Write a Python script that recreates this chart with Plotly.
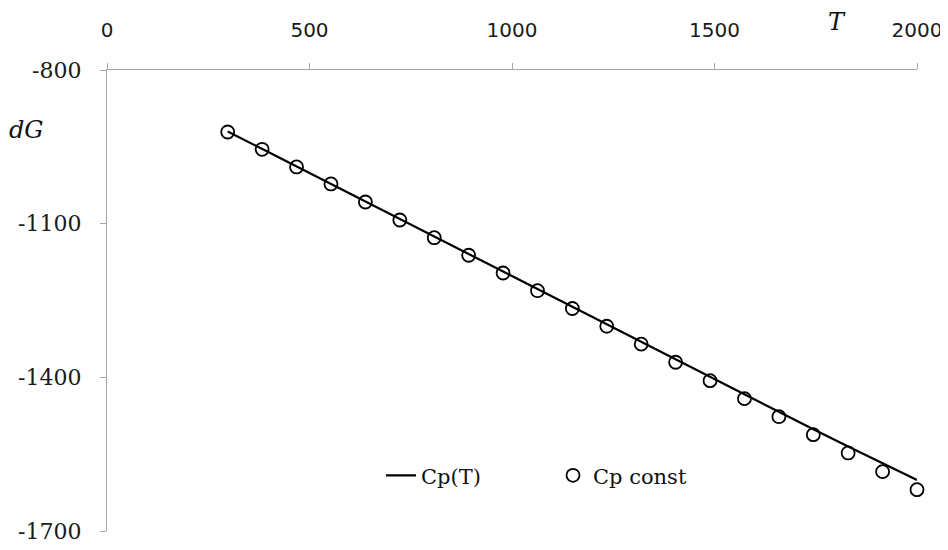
import plotly.graph_objects as go

T = [298, 383, 468, 553, 638, 723, 808, 893, 978, 1063, 1149,
     1234, 1319, 1404, 1489, 1574, 1659, 1744, 1830, 1915, 2000]
dG_cpT = [-920.0, -954.2, -988.4, -1022.5, -1056.7, -1090.8, -1125.6,
          -1159.8, -1193.9, -1228.1, -1262.2, -1296.4, -1330.6, -1364.7,
          -1398.9, -1433.0, -1467.2, -1501.4, -1534.9, -1568.1, -1600.3]
dG_const = [-921.0, -954.8, -989.3, -1022.5, -1057.7, -1092.8, -1127.4,
            -1161.7, -1196.3, -1230.8, -1265.6, -1300.3, -1335.2, -1370.6,
            -1406.5, -1441.6, -1476.8, -1511.9, -1547.6, -1584.1, -1619.3]
x_ticks = [0, 500, 1000, 1500, 2000]
x_labels = ["0", "500", "1000", "1500", "2000"]
y_ticks = [-800, -1100, -1400, -1700]
y_labels = ["-800", "-1100", "-1400", "-1700"]

serif = "DejaVu Serif"
sans = "DejaVu Sans"
axis_grey = "#a6a6a6"

fig = go.Figure()
fig.add_trace(go.Scatter(
    x=T, y=dG_cpT, mode="lines", name="Cp(T)",
    line=dict(color="#000000", width=2.2), cliponaxis=False,
    legend="legend"))
fig.add_trace(go.Scatter(
    x=T, y=dG_const, mode="markers", name="Cp const",
    marker=dict(symbol="circle-open", size=13, color="#000000",
                line=dict(width=1.8, color="#000000")),
    cliponaxis=False, legend="legend2"))

leg_font = dict(family=serif, size=21, color="#111111")

# page body adds an 8px offset, so the figure is 940x542
fig.update_layout(
    width=940, height=542,
    margin=dict(l=99, r=31, t=62, b=19, autoexpand=False),
    paper_bgcolor="white", plot_bgcolor="white",
    showlegend=True,
    legend=dict(x=(381 - 107) / 810, y=0.12, xanchor="left",
                yanchor="middle", bgcolor="rgba(0,0,0,0)", font=leg_font),
    legend2=dict(x=(553 - 107) / 810, y=0.12, xanchor="left",
                 yanchor="middle", bgcolor="rgba(0,0,0,0)", font=leg_font),
    xaxis=dict(side="top", range=[0, 2000], tickvals=x_ticks,
               ticktext=x_labels, automargin=False,
               showline=True, linecolor=axis_grey, linewidth=1.3,
               ticks="outside", ticklen=6, tickcolor=axis_grey,
               showgrid=False, zeroline=False,
               tickfont=dict(family=sans, size=20, color="#1a1a1a"),
               ticklabelstandoff=18),
    yaxis=dict(range=[-1700, -800], tickvals=y_ticks,
               ticktext=y_labels, automargin=False,
               showline=True, linecolor=axis_grey, linewidth=1.3,
               ticks="outside", ticklen=6, tickcolor=axis_grey,
               showgrid=False, zeroline=False,
               tickfont=dict(family=serif, size=22, color="#1a1a1a"),
               ticklabelstandoff=14),
    annotations=[
        dict(text="<i>T</i>", xref="paper", yref="paper", x=0.901, y=1.0,
             xanchor="center", yanchor="middle", yshift=48,
             showarrow=False,
             font=dict(family=serif, size=24, color="#111111")),
        dict(text="<i>dG</i>", xref="paper", yref="paper", x=-0.0988,
             y=0.870, xanchor="center", yanchor="middle",
             showarrow=False,
             font=dict(family=serif, size=24, color="#111111")),
    ],
)

fig.write_html("out.html")
